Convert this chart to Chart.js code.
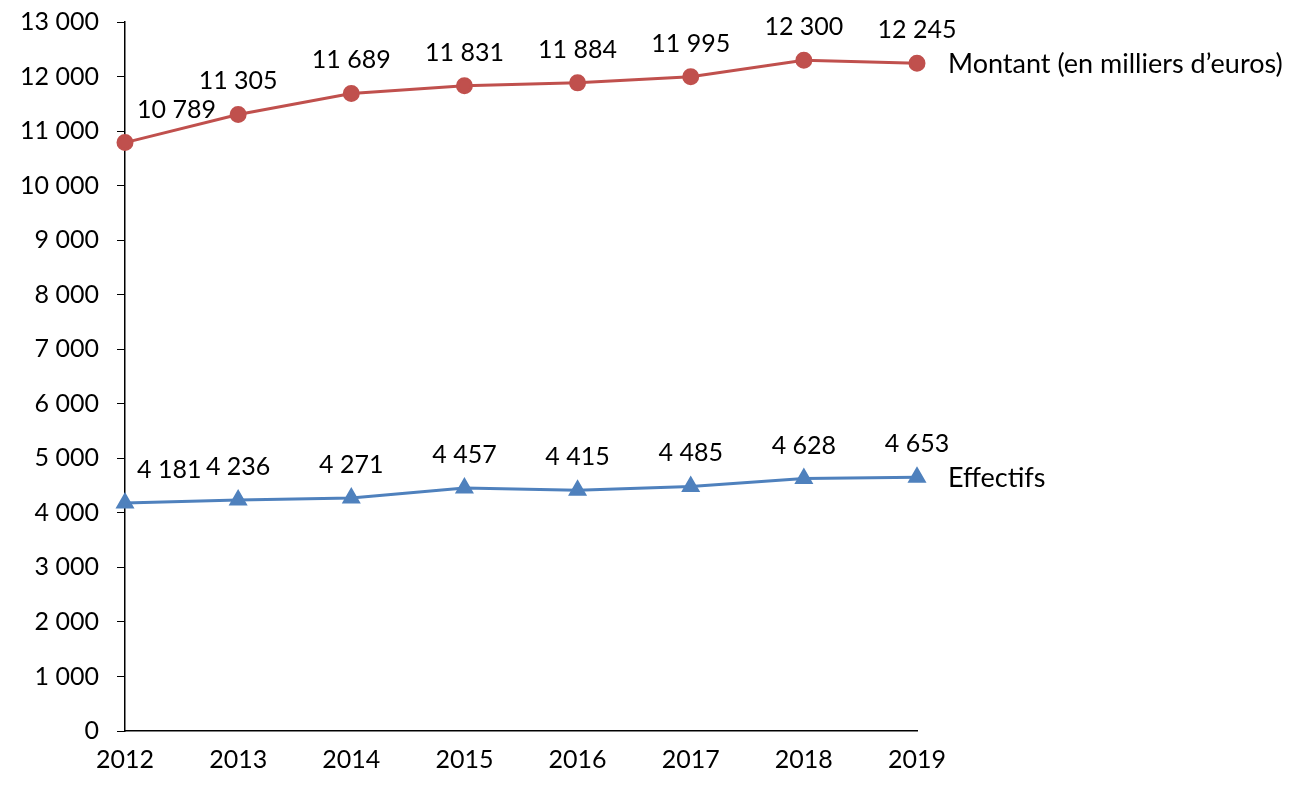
<!DOCTYPE html>
<html>
<head>
<meta charset="utf-8">
<script src="https://cdn.jsdelivr.net/npm/chart.js@4/dist/chart.umd.min.js"></script>
<style>
  body { margin: 0; background: #fff; }
  #wrap { width: 1309px; height: 793px; }
</style>
</head>
<body>
<div id="wrap"><canvas id="myChart"></canvas></div>
<script>
// data
const years = ["2012", "2013", "2014", "2015", "2016", "2017", "2018", "2019"]
const montant = [10789, 11305, 11689, 11831, 11884, 11995, 12300, 12245]
const effectifs = [4181, 4236, 4271, 4457, 4415, 4485, 4628, 4653]
const seriesNames = ["Montant (en milliers d’euros)", "Effectifs"]

const RED = "#C0504D"
const BLUE = "#4F81BD"
const FONT = "Lato"

// 12345 -> "12 345"
function fmt(n) {
  return String(n).replace(/\B(?=(\d{3})+(?!\d))/g, " ")
}

// draws value labels above each point and the series name after the last point
const labelPlugin = {
  id: "labels",
  afterDatasetsDraw(chart) {
    const ctx = chart.ctx
    ctx.save()
    ctx.fillStyle = "#000"
    chart.data.datasets.forEach(function (ds, d) {
      const meta = chart.getDatasetMeta(d)
      ctx.font = "25px " + FONT
      meta.data.forEach(function (pt, i) {
        ctx.textBaseline = "alphabetic"
        if (i == 0) {
          ctx.textAlign = "left"
          ctx.fillText(fmt(ds.data[i]), pt.x + 12, pt.y - 25)
        } else {
          ctx.textAlign = "center"
          ctx.fillText(fmt(ds.data[i]), pt.x, pt.y - 25)
        }
      })
      const last = meta.data[meta.data.length - 1]
      ctx.font = "27px " + FONT
      ctx.textAlign = "left"
      ctx.textBaseline = "middle"
      ctx.fillText(seriesNames[d], last.x + 31, last.y + 1)
    })
    ctx.restore()
  }
}

const ctx = document.getElementById("myChart").getContext("2d")
const chart = new Chart(ctx, {
  type: "line",
  data: {
    labels: years,
    datasets: [{
      label: seriesNames[0],
      data: montant,
      borderColor: RED,
      backgroundColor: RED,
      borderWidth: 3,
      pointStyle: "circle",
      pointRadius: 7,
      tension: 0
    }, {
      label: seriesNames[1],
      data: effectifs,
      borderColor: BLUE,
      backgroundColor: BLUE,
      borderWidth: 3,
      pointStyle: "triangle",
      pointRadius: 8,
      tension: 0
    }]
  },
  options: {
    responsive: true,
    maintainAspectRatio: false,
    animation: false,
    layout: { padding: { top: 22, right: 392, left: 0, bottom: 0 } },
    plugins: { legend: { display: false }, tooltip: { enabled: false } },
    scales: {
      x: {
        offset: false,
        grid: { display: true, drawOnChartArea: false, drawTicks: false },
        border: { display: true, color: "#000", width: 1.5 },
        ticks: { color: "#000", font: { family: FONT, size: 25 }, padding: 14, maxRotation: 0, autoSkip: false },
        afterFit: function (s) { s.height = 62 }
      },
      y: {
        min: 0,
        max: 13000,
        grid: { display: true, drawOnChartArea: false, drawTicks: true, tickLength: 8, color: "#000" },
        border: { display: true, color: "#000", width: 1.5 },
        ticks: {
          stepSize: 1000,
          color: "#000",
          font: { family: FONT, size: 25 },
          padding: 18,
          callback: function (v) { return fmt(v) }
        },
        afterFit: function (s) {
          s.width = 125
          // don't let the tick padding push the chart area down
          s.paddingTop = 0
          s.paddingBottom = 0
        }
      }
    }
  },
  plugins: [labelPlugin]
})
</script>
</body>
</html>
